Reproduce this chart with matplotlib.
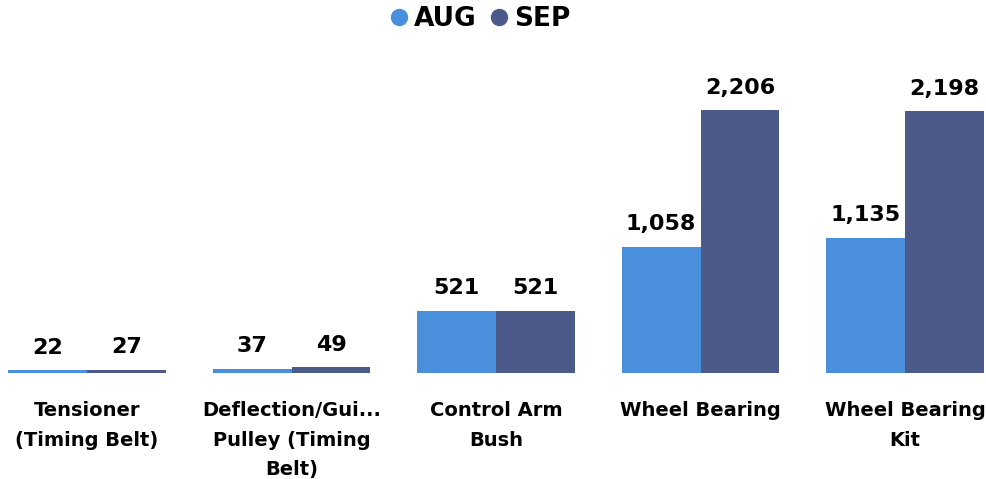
import matplotlib.pyplot as plt
from matplotlib.lines import Line2D
import numpy as np

categories = ["Tensioner\n(Timing Belt)", "Deflection/Gui...\nPulley (Timing\nBelt)",
              "Control Arm\nBush", "Wheel Bearing", "Wheel Bearing\nKit"]
aug = [22, 37, 521, 1058, 1135]
sep = [27, 49, 521, 2206, 2198]
series = ["AUG", "SEP"]
colors = ["#4a8fdc", "#4b5a88"]

fig = plt.figure(figsize=(9.86, 4.79), dpi=100)
ax = fig.add_axes([0, 106/479, 1, 313/479])

x = np.arange(len(categories))
w = 0.386
b1 = ax.bar(x - w/2, aug, w, color=colors[0])
b2 = ax.bar(x + w/2, sep, w, color=colors[1])

for bars, vals in ((b1, aug), (b2, sep)):
    for r, v in zip(bars, vals):
        ax.annotate(f"{v:,}", (r.get_x() + r.get_width()/2, r.get_height()),
                    xytext=(0, 9), textcoords="offset points",
                    ha="center", va="bottom", fontsize=16, fontweight="bold")

ax.set_xlim(-0.4254, 4.396)
ax.set_ylim(0, 2626)
ax.set_xticks(x)
ax.set_xticklabels(categories, fontsize=14, fontweight="bold", linespacing=1.72)
ax.tick_params(axis="x", length=0, pad=20)
ax.set_yticks([])
for s in ax.spines.values():
    s.set_visible(False)

handles = [Line2D([], [], marker="o", linestyle="", markersize=11.5, color=c) for c in colors]
leg = fig.legend(handles, series, loc="upper center", bbox_to_anchor=(0.485, 1.037), ncol=2,
                 frameon=False, handlelength=1.0, handletextpad=0.08, columnspacing=0.35,
                 prop={"weight": "bold", "size": 19})

fig.savefig("out.png", dpi=100)
